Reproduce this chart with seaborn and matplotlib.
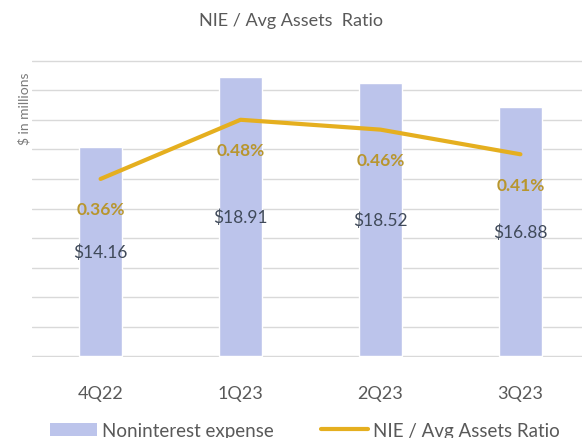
import matplotlib
matplotlib.use("Agg")
import matplotlib.pyplot as plt
import seaborn as sns
import pandas as pd
from matplotlib.patches import Patch
from matplotlib.lines import Line2D

quarters = ["4Q22", "1Q23", "2Q23", "3Q23"]
nie = [14.16, 18.91, 18.52, 16.88]
ratio = [0.36, 0.48, 0.46, 0.41]

sns.set_theme(style="white")
plt.rcParams['font.family'] = ['Lato', 'DejaVu Sans']

bar_color = "#BCC4EB"
line_color = "#E5AF1F"
label_gold = "#B8962E"
text_gray = "#595959"
grid_color = "#D9D9D9"

df = pd.DataFrame({"quarter": quarters, "nie": nie, "ratio": ratio})

fig = plt.figure(figsize=(5.82, 4.39), dpi=100)
ax = fig.add_axes([0.055, 0.1845, 0.945, 0.6765])
ax2 = ax.twinx()

sns.barplot(data=df, x="quarter", y="nie", color=bar_color, width=0.31,
            saturation=1, ax=ax, zorder=2)
ax.set_ylim(-0.04, 20.04)
ax.set_yticks(range(0, 21, 2))
ax.set_xlim(-0.49, 3.44)
ax.set_axisbelow(True)
for s in ax.spines.values():
    s.set_visible(False)
ax.set_xlabel("")
ax.set_ylabel("$ in millions", fontsize=10, color="#7a7a7a")
ax.yaxis.set_label_coords(-0.002, 0.84)

for i, v in enumerate(nie):
    ax.text(i, v / 2, f"${v:.2f}", ha="center", va="center", fontsize=12.5, color="#404a5a", zorder=5)

sns.lineplot(x=list(range(len(quarters))), y=ratio, color=line_color, linewidth=3, ax=ax2, zorder=4)
ax2.set_ylim(-0.0012, 0.6012)
ax2.set_xlim(-0.49, 3.44)
for s in ax2.spines.values():
    s.set_visible(False)
ax2.set_yticks([])
ax2.set_ylabel("")
for i, v in enumerate(ratio):
    ax2.annotate(f"{v:.2f}%", (i, v), xytext=(0, -22), textcoords="offset points",
                 ha="center", va="center", fontsize=12.5, color=label_gold, fontweight="bold")

ax.tick_params(axis='y', left=False, right=False, labelleft=False, labelright=False)
ax.tick_params(axis='x', bottom=False, labelsize=13, labelcolor=text_gray, pad=14)
ax2.tick_params(axis='both', left=False, right=False, bottom=False, labelleft=False, labelright=False)
ax.yaxis.grid(True, color=grid_color, linewidth=1)
ax.xaxis.grid(False)

fig.text(0.5, 0.953, "NIE / Avg Assets  Ratio", ha="center", va="center", fontsize=13, color=text_gray)

handles = [Patch(facecolor=bar_color, edgecolor="none"),
           Line2D([0], [0], color=line_color, linewidth=3)]
fig.legend(handles, ["Noninterest expense", "NIE / Avg Assets Ratio"], loc="center",
           bbox_to_anchor=(0.524, 0.017), ncol=2, frameon=False, fontsize=13.5,
           labelcolor=text_gray, handlelength=2.5, columnspacing=2.5, handletextpad=0.3)

fig.savefig("out.png", dpi=100)
